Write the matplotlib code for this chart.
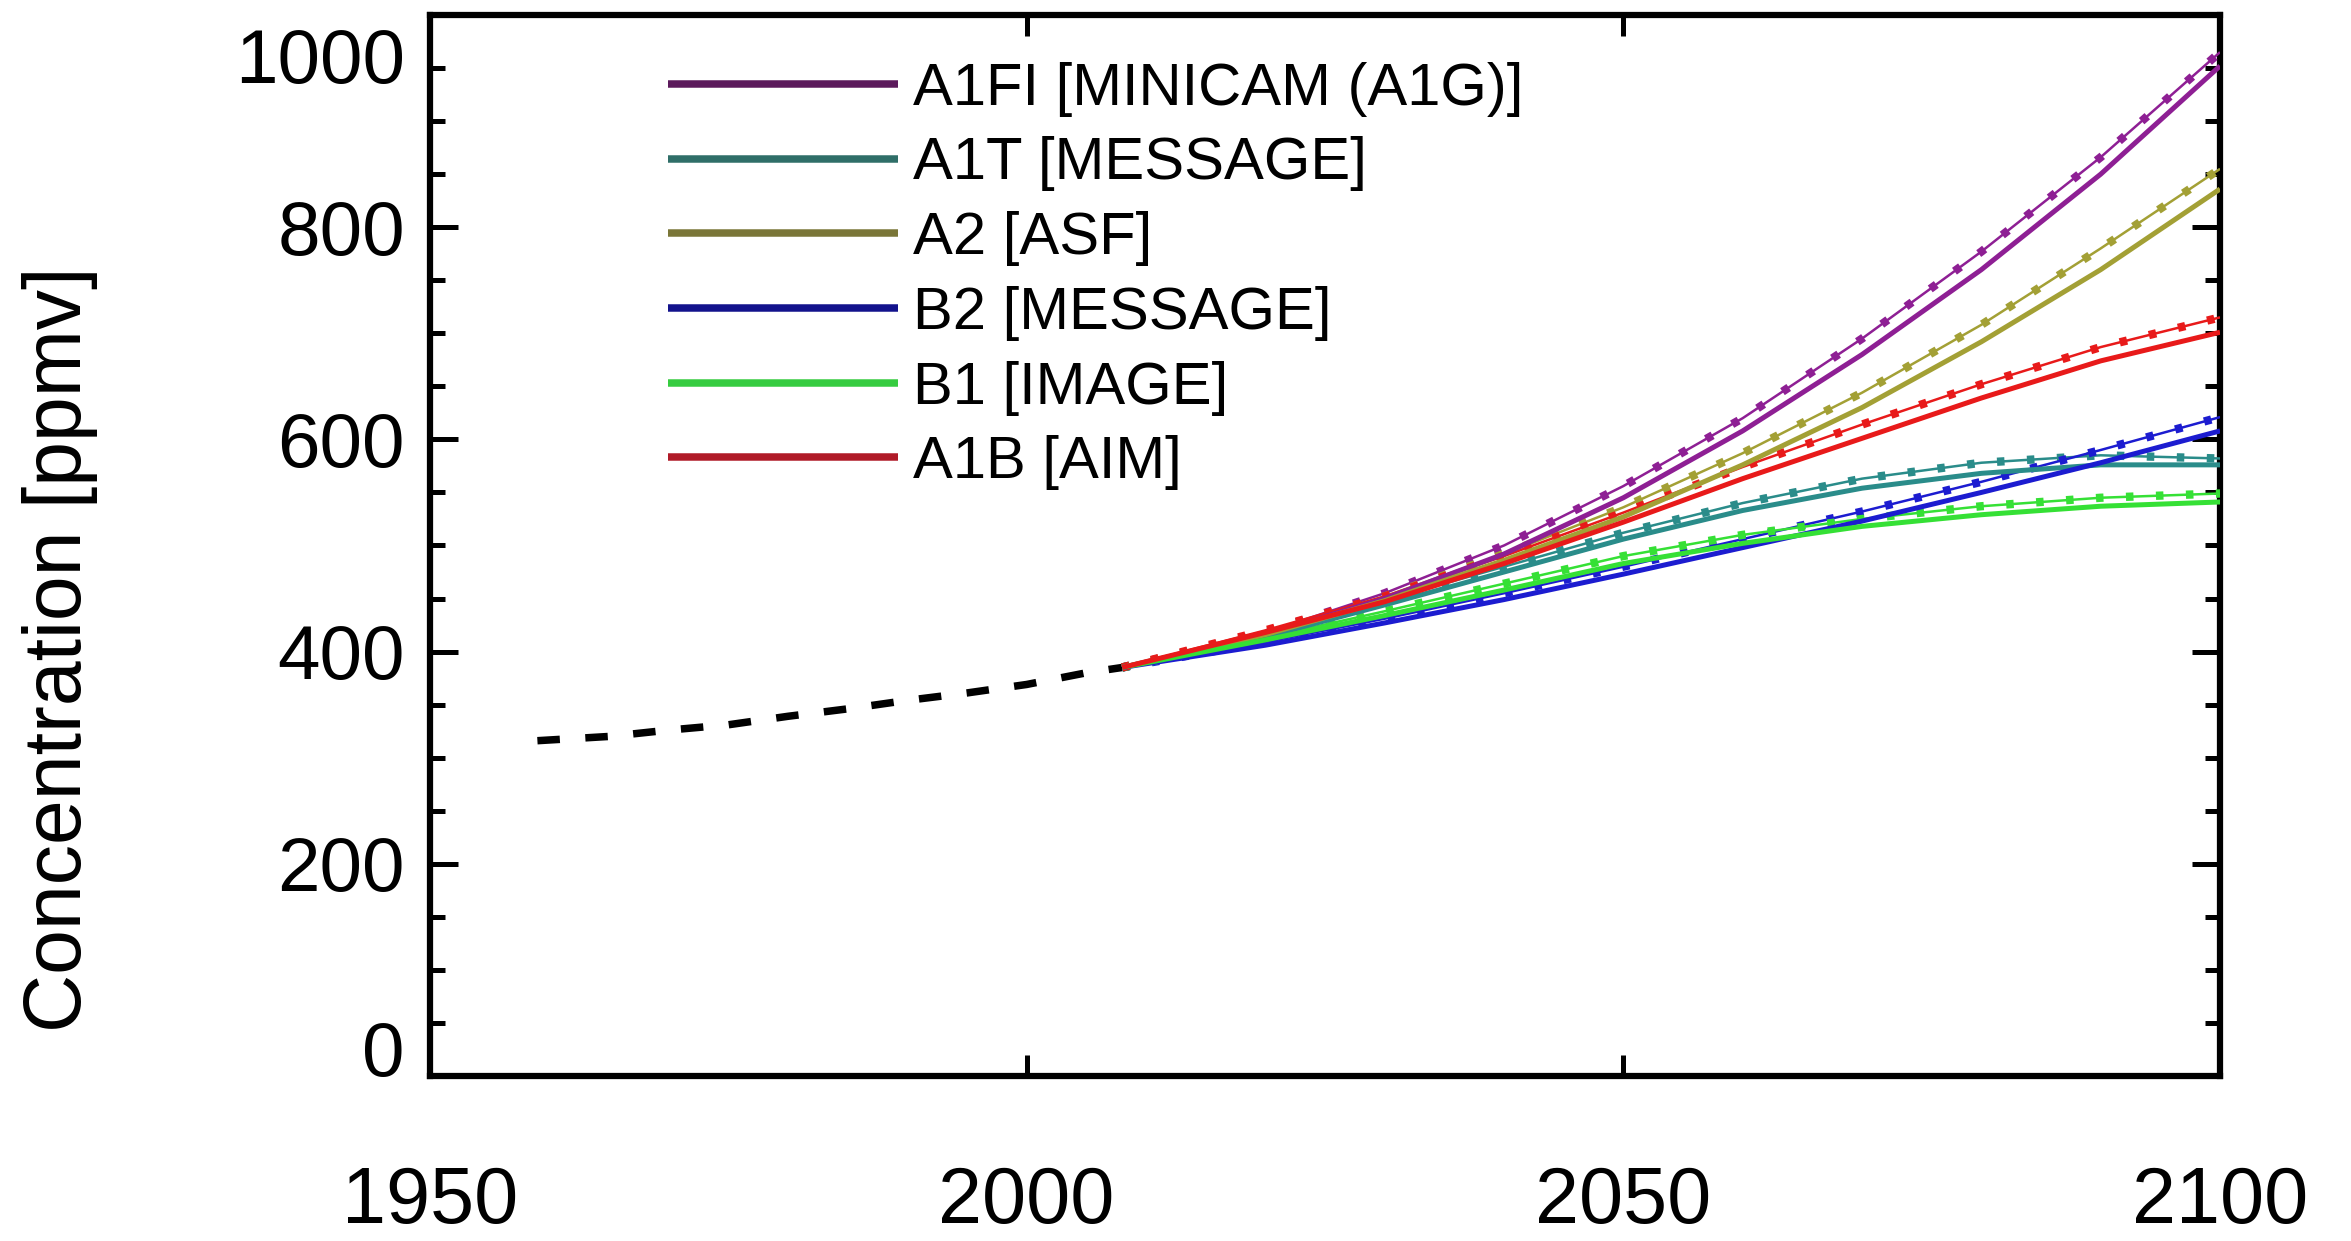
import matplotlib
matplotlib.use("Agg")
import matplotlib.pyplot as plt
from matplotlib.lines import Line2D
from matplotlib.ticker import MultipleLocator
import matplotlib.transforms as mtransforms

plt.rcParams['font.family'] = ['Liberation Sans', 'DejaVu Sans']

# ---------------- data ----------------
hist_years = [1959, 1965, 1970, 1975, 1980, 1985, 1990, 1995, 2000, 2005, 2008]
hist_co2 = [316, 320, 326, 331, 339, 346, 354, 361, 369, 380, 385]

proj_years = [2008, 2020, 2030, 2040, 2050, 2060, 2070, 2080, 2090, 2100]

scenario_labels = ["A1FI [MINICAM (A1G)]", "A1T [MESSAGE]", "A2 [ASF]",
                   "B2 [MESSAGE]", "B1 [IMAGE]", "A1B [AIM]"]

# solid curves (reference model 1)
a1fi_solid = [385, 416, 450, 492, 545, 608, 680, 760, 850, 952]
a1t_solid = [385, 414, 444, 475, 506, 533, 554, 568, 576, 576]
a2_solid = [385, 416, 448, 486, 527, 576, 630, 692, 760, 836]
b2_solid = [385, 406, 427, 449, 473, 498, 523, 550, 578, 608]
b1_solid = [385, 411, 434, 458, 483, 502, 518, 529, 537, 541]
a1b_solid = [385, 418, 447, 483, 522, 563, 601, 639, 674, 701]

# dashed curves with symbols (reference model 2)
a1fi_dash = [385, 418, 455, 500, 556, 620, 695, 777, 866, 965]
a1t_dash = [385, 416, 448, 480, 512, 540, 563, 578, 585, 582]
a2_dash = [385, 418, 452, 492, 536, 587, 644, 708, 780, 855]
b2_dash = [385, 409, 431, 455, 480, 506, 532, 560, 590, 621]
b1_dash = [385, 413, 438, 464, 490, 510, 525, 537, 545, 549]
a1b_dash = [385, 420, 452, 490, 531, 574, 614, 652, 687, 715]

x_ticks = [1950, 2000, 2050, 2100]
y_ticks = [0, 200, 400, 600, 800, 1000]

# ---------------- style ----------------
line_colors = ['#8e1f94', '#2a8c8a', '#a3a035', '#1c1cd0', '#35e035', '#e81a1a']
legend_colors = ['#5c1a5c', '#2f6e68', '#7a7638', '#12128c', '#36cc40', '#b01a28']

solids = [a1fi_solid, a1t_solid, a2_solid, b2_solid, b1_solid, a1b_solid]
dashes = [a1fi_dash, a1t_dash, a2_dash, b2_dash, b1_dash, a1b_dash]

fig = plt.figure(figsize=(23.51, 12.41), dpi=100)
ax = fig.add_axes([0.1829, 0.1330, 0.7614, 0.8549])

ax.plot(hist_years, hist_co2, color='black', lw=5.4, linestyle=(0, (3.0, 3.4)),
        dash_capstyle='butt', zorder=3)

for s, d, c in zip(solids, dashes, line_colors):
    # thin connecting line + square-ish symbols along the second model curve
    ax.plot(proj_years, d, color=c, lw=1.8, solid_capstyle='butt', zorder=4)
    ax.plot(proj_years, d, color=c, lw=6.0, linestyle=(0, (0.9, 2.7)),
            dash_capstyle='butt', zorder=4)
    ax.plot(proj_years, s, color=c, lw=3.6, solid_capstyle='butt', zorder=5)

ax.set_xlim(1950, 2100)
ax.set_ylim(0, 1000)
ax.set_xticks(x_ticks)
ax.set_yticks(y_ticks)
ax.yaxis.set_minor_locator(MultipleLocator(50))

for sp in ax.spines.values():
    sp.set_linewidth(4.5)

ax.tick_params(axis='x', which='major', direction='in', length=15, width=3.6,
               top=True, bottom=True, labelsize=57, pad=64)
ax.tick_params(axis='y', which='major', direction='in', length=20, width=3.6,
               left=True, right=True, labelsize=55, pad=18)
ax.tick_params(axis='y', which='minor', direction='in', length=11, width=3.6,
               left=True, right=True)
ax.tick_params(axis='x', which='minor', bottom=False, top=False)

fig.canvas.draw()
for lab in ax.get_yticklabels():
    if lab.get_text() == '1000':
        lab.set_va('top')
        lab.set_transform(lab.get_transform() + mtransforms.ScaledTranslation(0, -9/72, fig.dpi_scale_trans))
    elif lab.get_text() == '0':
        lab.set_va('baseline')

fig.text(60/2351, 1 - 649/1241, "Concentration [ppmv]", rotation=90,
         ha='center', va='center', fontsize=58)

handles = [Line2D([0], [0], color=c, lw=5.4, solid_capstyle='butt') for c in legend_colors]
ax.legend(handles, scenario_labels, loc='upper left', bbox_to_anchor=(0.133, 0.956),
          frameon=False, fontsize=43, handlelength=3.85, handletextpad=0.25,
          labelspacing=0.33, borderpad=0, borderaxespad=0)

fig.savefig("out.png", dpi=100, facecolor='white')
